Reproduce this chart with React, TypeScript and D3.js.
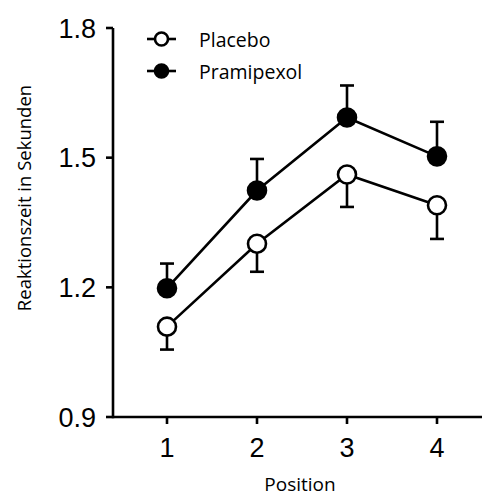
import React from "react";
import * as d3 from "d3";

const positions = [1, 2, 3, 4];
const placeboMean = [1.109, 1.301, 1.461, 1.39];
const placeboErr = [0.053, 0.065, 0.075, 0.078];
const pramipexolMean = [1.198, 1.424, 1.593, 1.503];
const pramipexolErr = [0.057, 0.073, 0.074, 0.08];
const yTicks = [0.9, 1.2, 1.5, 1.8];
const seriesNames = ["Placebo", "Pramipexol"];

const W = 482;
const H = 497;

export default function App() {
  const x = d3.scaleLinear().domain([0.4, 4.5]).range([113, 482]);
  const y = d3.scaleLinear().domain([0.9, 1.8]).range([417, 28]);
  const line = d3
    .line<number>()
    .x((_, i) => x(positions[i]))
    .y((d) => y(d));

  const series = [
    { name: seriesNames[0], mean: placeboMean, err: placeboErr, fill: "#fff", dir: -1 },
    { name: seriesNames[1], mean: pramipexolMean, err: pramipexolErr, fill: "#000", dir: 1 },
  ];
  const sw = 2.6;
  const r = 9;
  const cap = 7;
  const labelFont = "'Open Sans', sans-serif";
  const tickFont = "'Liberation Sans', Arial, sans-serif";

  return (
    <svg
      width={W}
      height={H}
      style={{ position: "absolute", left: 0, top: 0 }}
      viewBox={`0 0 ${W} ${H}`}
    >
      <rect width={W} height={H} fill="#fff" />
      {/* axes */}
      <line x1={x(0.4)} x2={x(0.4)} y1={y(1.8)} y2={y(0.9) + sw / 2} stroke="#000" strokeWidth={sw} />
      <line x1={x(0.4)} x2={W} y1={y(0.9)} y2={y(0.9)} stroke="#000" strokeWidth={sw} />
      {yTicks.map((t) => (
        <g key={t}>
          <line x1={x(0.4) - 7} x2={x(0.4)} y1={y(t)} y2={y(t)} stroke="#000" strokeWidth={sw} />
          <text x={96} y={y(t)} dy="0.36em" textAnchor="end" fontFamily={tickFont} fontSize={27}>
            {t.toFixed(1)}
          </text>
        </g>
      ))}
      {positions.map((p) => (
        <g key={p}>
          <line x1={x(p)} x2={x(p)} y1={y(0.9)} y2={y(0.9) + 7} stroke="#000" strokeWidth={sw} />
          <text x={x(p)} y={457} textAnchor="middle" fontFamily={tickFont} fontSize={27}>
            {p}
          </text>
        </g>
      ))}
      <text x={300} y={491} textAnchor="middle" fontFamily={labelFont} fontSize={19}>
        Position
      </text>
      <text
        transform={`translate(31, 198) rotate(-90)`}
        textAnchor="middle"
        fontFamily={labelFont}
        fontSize={18.5}
      >
        Reaktionszeit in Sekunden
      </text>

      {/* error bars */}
      {series.map((s) =>
        s.mean.map((m, i) => {
          const end = m + s.dir * s.err[i];
          return (
            <g key={s.name + i}>
              <line x1={x(positions[i])} x2={x(positions[i])} y1={y(m)} y2={y(end)} stroke="#000" strokeWidth={sw} />
              <line
                x1={x(positions[i]) - cap}
                x2={x(positions[i]) + cap}
                y1={y(end)}
                y2={y(end)}
                stroke="#000"
                strokeWidth={sw}
              />
            </g>
          );
        })
      )}
      {/* lines and markers */}
      {series.map((s) => (
        <g key={s.name}>
          <path d={line(s.mean) || ""} fill="none" stroke="#000" strokeWidth={sw} />
          {s.mean.map((m, i) => (
            <circle key={i} cx={x(positions[i])} cy={y(m)} r={r} fill={s.fill} stroke="#000" strokeWidth={sw} />
          ))}
        </g>
      ))}

      {/* legend */}
      {series.map((s, i) => {
        const ly = 39 + i * 32;
        return (
          <g key={"lg" + s.name}>
            <line x1={147} x2={176} y1={ly} y2={ly} stroke="#000" strokeWidth={sw} />
            <circle cx={161.5} cy={ly} r={6.5} fill={s.fill} stroke="#000" strokeWidth={sw} />
            <text x={199} y={ly + 8} fontFamily={labelFont} fontSize={19.5}>
              {s.name}
            </text>
          </g>
        );
      })}
    </svg>
  );
}
